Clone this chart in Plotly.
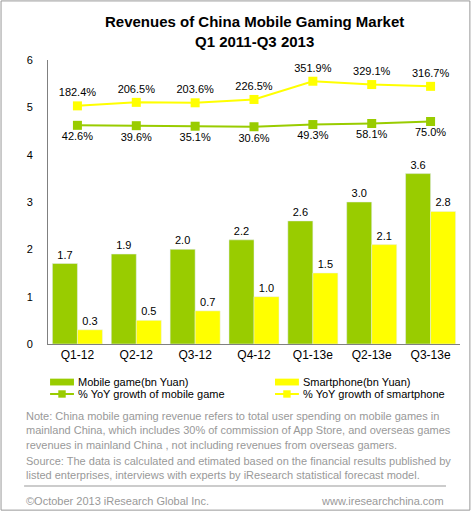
import plotly.graph_objects as go

quarters = ["Q1-12", "Q2-12", "Q3-12", "Q4-12", "Q1-13e", "Q2-13e", "Q3-13e"]
mobile_game = [1.7, 1.9, 2.0, 2.2, 2.6, 3.0, 3.6]
smartphone = [0.3, 0.5, 0.7, 1.0, 1.5, 2.1, 2.8]
yoy_mobile = [42.6, 39.6, 35.1, 30.6, 49.3, 58.1, 75.0]
yoy_smart = [182.4, 206.5, 203.6, 226.5, 351.9, 329.1, 316.7]

GREEN = "#99CC00"
YELLOW = "#FFFF00"
FONT = "Liberation Sans, Arial, sans-serif"

fig = go.Figure()
fig.add_trace(go.Bar(x=quarters, y=mobile_game, name="Mobile game(bn Yuan)",
                     marker_color=GREEN, text=[f"{v:.1f}" for v in mobile_game],
                     textposition="outside", cliponaxis=False,
                     textfont=dict(size=11, color="#000")))
fig.add_trace(go.Bar(x=quarters, y=smartphone, name="Smartphone(bn Yuan)",
                     marker_color=YELLOW, text=[f"{v:.1f}" for v in smartphone],
                     textposition="outside", cliponaxis=False,
                     textfont=dict(size=11, color="#000")))
fig.add_trace(go.Scatter(x=quarters, y=yoy_mobile, name="% YoY growth of mobile game",
                         yaxis="y3", mode="lines+markers+text", cliponaxis=False,
                         line=dict(color=GREEN, width=2),
                         marker=dict(symbol="square", size=9, color=GREEN),
                         text=[f"{v:.1f}%" for v in yoy_mobile], textposition="bottom center",
                         textfont=dict(size=11, color="#000")))
fig.add_trace(go.Scatter(x=quarters, y=yoy_smart, name="% YoY growth of smartphone",
                         yaxis="y2", mode="lines+markers+text", cliponaxis=False,
                         line=dict(color=YELLOW, width=2),
                         marker=dict(symbol="square", size=9, color=YELLOW),
                         text=[f"{v:.1f}%" for v in yoy_smart], textposition="top center",
                         textfont=dict(size=11, color="#000")))

note = ("Note: China mobile gaming revenue refers to total user spending on mobile games in<br>"
        "mainland China, which includes 30% of commission of App Store, and overseas games<br>"
        "revenues in mainland China , not including revenues from overseas gamers.")
source = ("Source: The data is calculated and etimated based on the financial results published by<br>"
          "listed enterprises, interviews with experts by iResearch statistical forecast model.")

shapes = [
    dict(type="line", xref="paper", yref="paper", x0=-0.058, x1=0.966, y0=-0.5, y1=-0.5,
         line=dict(color="#999", width=1)),
    dict(type="rect", xref="paper", yref="paper", x0=-0.114, x1=1.024, y0=-0.585, y1=1.208,
         line=dict(color="#999", width=1)),
]
annotations = [
    dict(text="<b>Revenues of China Mobile Gaming Market<br>Q1 2011-Q3 2013</b>",
         xref="paper", yref="paper", x=0.5, y=1.172, xanchor="center", yanchor="top",
         showarrow=False, font=dict(size=15, color="#000")),
    dict(text=note, xref="paper", yref="paper", x=-0.058, y=-0.225, xanchor="left",
         yanchor="top", align="left", showarrow=False, font=dict(size=11, color="#999")),
    dict(text=source, xref="paper", yref="paper", x=-0.058, y=-0.385, xanchor="left",
         yanchor="top", align="left", showarrow=False, font=dict(size=11, color="#999")),
    dict(text="©October 2013 iResearch Global Inc.", xref="paper", yref="paper", x=-0.058,
         y=-0.553, xanchor="left", yanchor="middle", showarrow=False,
         font=dict(size=11, color="#999")),
    dict(text="www.iresearchchina.com", xref="paper", yref="paper", x=0.966,
         y=-0.553, xanchor="right", yanchor="middle", showarrow=False,
         font=dict(size=11, color="#999")),
]

# hand-drawn legend, two columns
legend_items = [
    ("Mobile game(bn Yuan)", GREEN, "bar", 0.005, -0.134),
    ("Smartphone(bn Yuan)", YELLOW, "bar", 0.551, -0.134),
    ("% YoY growth of mobile game", GREEN, "line", 0.005, -0.176),
    ("% YoY growth of smartphone", YELLOW, "line", 0.551, -0.176),
]
for label, col, kind, x0, yc in legend_items:
    x1 = x0 + 0.058
    if kind == "bar":
        shapes.append(dict(type="rect", xref="paper", yref="paper", x0=x0, x1=x1,
                           y0=yc - 0.012, y1=yc + 0.012, fillcolor=col, line_width=0))
    else:
        shapes.append(dict(type="line", xref="paper", yref="paper", x0=x0, x1=x1,
                           y0=yc, y1=yc, line=dict(color=col, width=2)))
        xm = (x0 + x1) / 2
        shapes.append(dict(type="rect", xref="paper", yref="paper", x0=xm - 0.009, x1=xm + 0.009,
                           y0=yc - 0.013, y1=yc + 0.013, fillcolor=col, line_width=0))
    annotations.append(dict(text=label, xref="paper", yref="paper", x=x1 + 0.005, y=yc,
                            xanchor="left", yanchor="middle", showarrow=False,
                            font=dict(size=11, color="#000")))

fig.update_layout(
    width=472, height=511,
    margin=dict(l=48, r=12, t=60, b=167, autoexpand=False),
    paper_bgcolor="white", plot_bgcolor="white",
    font=dict(family=FONT, size=11, color="#000"),
    barmode="group", bargap=0.15, bargroupgap=0,
    showlegend=False,
    xaxis=dict(showline=True, linecolor="#808080", ticks="", tickfont=dict(size=12)),
    yaxis=dict(range=[0, 6], dtick=1, showgrid=False, showline=True, linecolor="#808080",
               zeroline=False, ticks="outside", ticklen=12, tickcolor="white",
               tickfont=dict(size=11)),
    yaxis2=dict(range=[-1456, 498], overlaying="y", visible=False),
    yaxis3=dict(range=[-1805, 594.6], overlaying="y", visible=False),
    shapes=shapes,
    annotations=annotations,
)

fig.write_html("out.html", config={"displayModeBar": False},
               post_script="document.body.style.margin='0';document.body.style.overflow='hidden';")
